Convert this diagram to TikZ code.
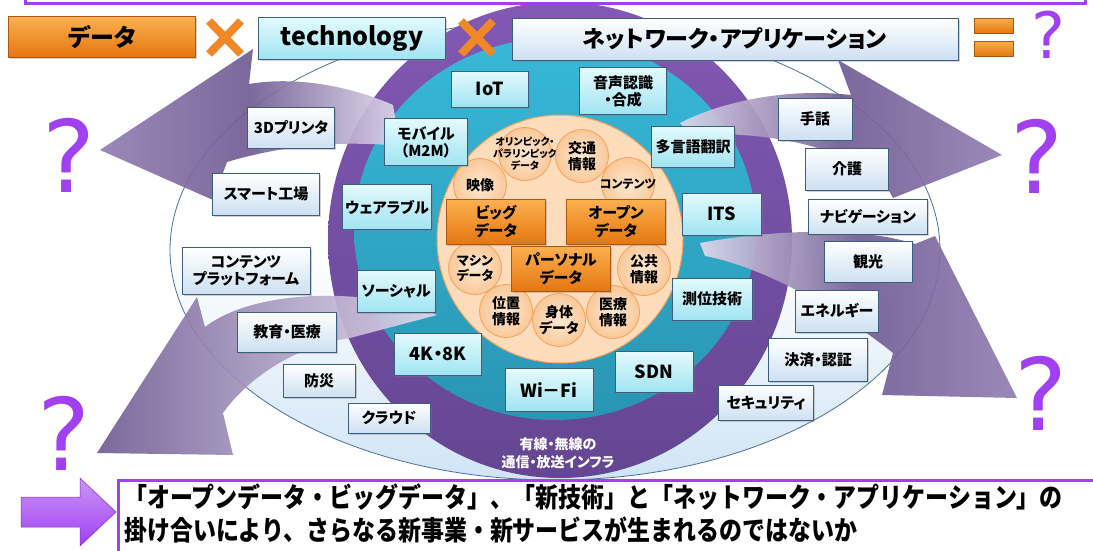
\documentclass[tikz,border=0pt]{standalone}
\usepackage{fontspec}
\setmainfont{Noto Sans CJK JP}[RawFeature=+palt]
\newfontfamily\msgfont{Noto Sans CJK JP}
\newfontfamily\qfont{DejaVu Sans}
\usepackage{graphicx}
\usepackage{tikz}
\usetikzlibrary{shadows}
\definecolor{boxedge}{RGB}{60,95,128}
\definecolor{cyantop}{RGB}{228,250,253}
\definecolor{cyanbot}{RGB}{160,228,242}
\definecolor{whitebot}{RGB}{205,224,242}
\definecolor{orangetop}{RGB}{252,176,80}
\definecolor{orangebot}{RGB}{228,118,16}
\definecolor{orangeedge}{RGB}{170,88,20}
\definecolor{peachfill}{RGB}{253,220,188}
\definecolor{peachedge}{RGB}{242,160,90}
\definecolor{circin}{RGB}{255,232,210}
\definecolor{circout}{RGB}{249,200,152}
\definecolor{tealtop}{RGB}{56,184,216}
\definecolor{tealbot}{RGB}{40,150,180}
\definecolor{ringtop}{RGB}{130,88,180}
\definecolor{ringbot}{RGB}{100,70,146}
\definecolor{outerfill}{RGB}{208,228,246}
\definecolor{outeredge}{RGB}{74,112,152}
\definecolor{arrowlight}{RGB}{226,218,236}
\definecolor{arrowmid}{RGB}{146,126,178}
\definecolor{arrowdark}{RGB}{112,92,148}
\definecolor{qviolet}{RGB}{160,64,240}
\definecolor{xorange}{RGB}{240,136,40}

\begin{document}
\begin{tikzpicture}[
    x=1pt, y=-1pt,
    cyanbox/.style={rectangle, draw=boxedge, line width=0.8pt, top color=cyantop, bottom color=cyanbot, font=\bfseries\fontsize{15}{17}\selectfont, align=center, inner sep=1pt, drop shadow={opacity=0.35, shadow xshift=1.5pt, shadow yshift=-1.5pt}},
    whitebox/.style={cyanbox, top color=white, bottom color=whitebot},
    latin/.style={font=\bfseries\fontsize{18}{20}\selectfont},
    databox/.style={rectangle, draw=orangeedge, line width=0.8pt, top color=orangetop, bottom color=orangebot, font=\bfseries\fontsize{15}{18}\selectfont, align=center, minimum width=99pt, minimum height=45pt, drop shadow={opacity=0.35, shadow xshift=1.5pt, shadow yshift=-1.5pt}},
    datacirc/.style={circle, draw=peachedge, line width=0.8pt, inner color=circin, outer color=circout, inner sep=0pt, minimum size=53pt},
    circtext/.style={font=\bfseries\fontsize{14}{16}\selectfont, align=center, inner sep=0pt},
    ringtext/.style={text=white, font=\bfseries\fontsize{14}{18}\selectfont, align=center},
    bigarrow/.style={fill opacity=0.92},
    qmark/.style={text=qviolet, font=\qfont\fontsize{100}{100}\selectfont, inner sep=0pt, anchor=base},
    crossline/.style={draw=xorange, line width=8pt},
    eqbar/.style={draw=orangeedge, line width=0.6pt, top color=orangetop, bottom color=orangebot},
    msgtext/.style={anchor=west, inner sep=0pt, font=\msgfont\bfseries\fontsize{27}{27}\selectfont}
]
    \useasboundingbox (0,0) rectangle (1093,550);
    \begin{scope}
    \clip (0,0) rectangle (1093,550);

    % Discs
    \shadedraw[top color=white, bottom color=outerfill, middle color=white, draw=outeredge, line width=0.8pt] (555,250) ellipse [x radius=385, y radius=230];
    \shade[top color=ringtop, bottom color=ringbot] (560,240) ellipse [x radius=232, y radius=238];
    \shade[top color=tealtop, bottom color=tealbot] (555,229) ellipse [x radius=201, y radius=191];

    % Big arrows
    \shade[bigarrow, left color=arrowmid, right color=arrowlight, middle color=arrowdark]
        (393,105) .. controls (350,86) and (296,76) .. (249,84) -- (253,49) -- (100,150) -- (213,200) -- (227,162)
        .. controls (280,146) and (340,140) .. (400,146) -- cycle;
    \shade[bigarrow, left color=arrowlight, right color=arrowmid, middle color=arrowdark]
        (680,123) .. controls (725,100) and (790,88) .. (851,95) -- (838,60) -- (1002,155) -- (893,198) -- (882,178)
        .. controls (830,142) and (760,132) .. (690,134) -- cycle;
    \shade[bigarrow, left color=arrowlight, right color=arrowmid, middle color=arrowdark]
        (700,243) .. controls (770,230) and (860,226) .. (915,244) -- (935,236) -- (1017,398) -- (882,395) -- (893,353)
        .. controls (850,318) and (770,268) .. (705,256) -- cycle;
    \shade[bigarrow, left color=arrowdark, right color=arrowlight]
        (437,315) .. controls (380,290) and (260,285) .. (205,327) -- (197,297) -- (97,453) -- (233,455) -- (223,413)
        .. controls (250,375) and (300,345) .. (350,338) -- cycle;

    % Data core
    \filldraw[fill=peachfill, draw=peachedge, line width=1pt] (560,239) ellipse [x radius=123, y radius=124];
    \node[datacirc, label={[circtext, font=\bfseries\fontsize{10}{12}\selectfont]center:{オリンピック・\\パラリンピック\\データ}}] (olym) at (525,154) {};
    \node[datacirc, label={[circtext]center:{交通\\情報}}] (traffic) at (582,156) {};
    \node[datacirc, label={[circtext]center:{映像}}] (video) at (480,185) {};
    \node[datacirc, label={[circtext, font=\bfseries\fontsize{12}{14}\selectfont]center:{コンテンツ}}] (content) at (628,184) {};
    \node[datacirc, label={[circtext, font=\bfseries\fontsize{13}{15}\selectfont]center:{マシン\\データ}}] (machine) at (475,268) {};
    \node[datacirc, label={[circtext]center:{公共\\情報}}] (public) at (644,269) {};
    \node[datacirc, label={[circtext]center:{位置\\情報}}] (position) at (506,311) {};
    \node[datacirc, label={[circtext]center:{身体\\データ}}] (body) at (559,320) {};
    \node[datacirc, label={[circtext]center:{医療\\情報}}] (medical) at (613,312) {};
    \node[databox] (big) at (496,222) {ビッグ\\データ};
    \node[databox] (open) at (616,222) {オープン\\データ};
    \node[databox] (personal) at (561,269) {パーソナル\\データ};

    % Technology ring
    \node[cyanbox, latin, minimum width=77pt, minimum height=36pt] (iot) at (490,89) {IoT};
    \node[cyanbox, minimum width=87pt, minimum height=47pt] (voice) at (623,91) {音声認識\\・合成};
    \node[cyanbox, minimum width=83pt, minimum height=47pt] (mobile) at (426,142) {モバイル\\（M2M）};
    \node[cyanbox, minimum width=83pt, minimum height=41pt] (transl) at (693,147) {多言語翻訳};
    \node[cyanbox, minimum width=89pt, minimum height=45pt] (wear) at (387,207) {ウェアラブル};
    \node[cyanbox, latin, minimum width=79pt, minimum height=42pt] (its) at (722,214) {ITS};
    \node[cyanbox, minimum width=78pt, minimum height=42pt] (social) at (396,291) {ソーシャル};
    \node[cyanbox, minimum width=80pt, minimum height=42pt] (gnss) at (712,299) {測位技術};
    \node[cyanbox, latin, minimum width=87pt, minimum height=42pt] (uhd) at (438,354) {4K・8K};
    \node[cyanbox, latin, minimum width=88pt, minimum height=43pt] (wifi) at (549,390) {Wi－Fi};
    \node[cyanbox, latin, minimum width=78pt, minimum height=41pt] (sdn) at (654,372) {SDN};
    \node[ringtext] (infra) at (558,453) {有線・無線の\\通信・放送インフラ};

    % Applications
    \node[whitebox, minimum width=87pt, minimum height=41pt] (printer) at (291,128) {3Dプリンタ};
    \node[whitebox, minimum width=107pt, minimum height=42pt] (factory) at (266,194) {スマート工場};
    \node[whitebox, minimum width=128pt, minimum height=47pt] (platform) at (246,271) {コンテンツ\\プラットフォーム};
    \node[whitebox, minimum width=99pt, minimum height=40pt] (edu) at (287,332) {教育・医療};
    \node[whitebox, minimum width=72pt, minimum height=33pt] (disaster) at (319,381) {防災};
    \node[whitebox, minimum width=82pt, minimum height=30pt] (cloud) at (389,418) {クラウド};
    \node[whitebox, minimum width=74pt, minimum height=42pt] (sign) at (815,119) {手話};
    \node[whitebox, minimum width=83pt, minimum height=42pt] (care) at (847,169) {介護};
    \node[whitebox, minimum width=119pt, minimum height=35pt] (navi) at (868,217) {ナビゲーション};
    \node[whitebox, minimum width=88pt, minimum height=41pt] (tour) at (868,262) {観光};
    \node[whitebox, minimum width=83pt, minimum height=42pt] (energy) at (837,311) {エネルギー};
    \node[whitebox, minimum width=99pt, minimum height=43pt] (pay) at (818,360) {決済・認証};
    \node[whitebox, minimum width=95pt, minimum height=35pt] (security) at (766,403) {セキュリティ};

    % Question marks
    \node[qmark] (qul) at (69,192) {?};
    \node[qmark] (qur) at (1037,193) {?};
    \node[qmark] (qlr) at (1041,430) {?};
    \node[qmark] (qll) at (64,470) {?};

    % Top row
    \draw[draw=qviolet, line width=3pt] (25,-30) rectangle (1085,3);
    \node[databox, minimum width=187pt, minimum height=41pt, font=\bfseries\fontsize{24}{26}\selectfont] (datatop) at (102,37) {データ};
    \draw[crossline] (209,21) -- (241,54) (209,54) -- (241,21);
    \node[cyanbox, minimum width=187pt, minimum height=42pt, font=\bfseries\fontsize{25}{27}\selectfont] (techtop) at (352,38) {technology};
    \draw[crossline] (461,21) -- (493,54) (461,54) -- (493,21);
    \node[whitebox, minimum width=446pt, minimum height=42pt, font=\bfseries\fontsize{23}{25}\selectfont] (nettop) at (735,39) {ネットワーク・アプリケーション};
    \shade[eqbar] (974,18) rectangle (1013,33);
    \shade[eqbar] (974,41) rectangle (1013,56);
    \node[qmark, font=\qfont\fontsize{64}{64}\selectfont] (qtop) at (1048,58) {?};

    % Message
    \filldraw[fill=white, draw=qviolet, line width=3pt] (118,480) rectangle (1110,570);
    \shadedraw[top color=qviolet!55, bottom color=qviolet, draw=qviolet!80!black, line width=0.5pt]
        (21,497) -- (80,497) -- (80,478) -- (116,512) -- (80,546) -- (80,527) -- (21,527) -- cycle;
    \node[msgtext] (msg1) at (124,497) {\scalebox{0.85}[1]{「オープンデータ・ビッグデータ」、「新技術」と「ネットワーク・アプリケーション」の}};
    \node[msgtext] (msg2) at (124,530) {\scalebox{0.85}[1]{掛け合いにより、さらなる新事業・新サービスが生まれるのではないか}};
    \end{scope}
\end{tikzpicture}
\end{document}
